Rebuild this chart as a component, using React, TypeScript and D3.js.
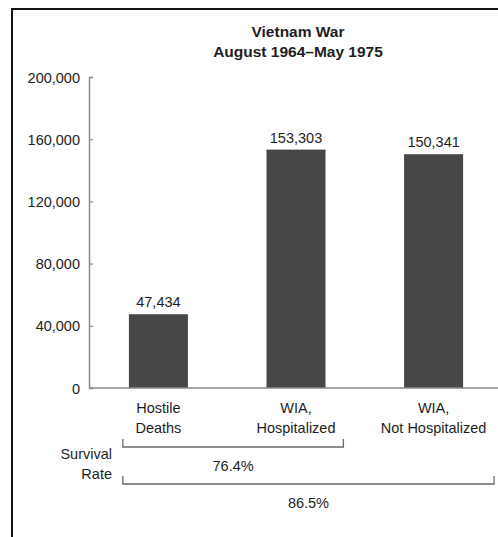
import React from "react";
import * as d3 from "d3";

// chart values
const categories = ["Hostile Deaths", "WIA, Hospitalized", "WIA, Not Hospitalized"];
const categoryLines = [["Hostile", "Deaths"], ["WIA,", "Hospitalized"], ["WIA,", "Not Hospitalized"]];
const casualties = [47434, 153303, 150341];
const yTicks = [0, 40000, 80000, 120000, 160000, 200000];
const survivalLabels = ["76.4%", "86.5%"];
const survivalSpans = [[0, 1], [0, 2]];
const titleLines = ["Vietnam War", "August 1964\u2013May 1975"];

const W = 498;
const H = 537;
const FONT = "'Liberation Sans', Arial, Helvetica, sans-serif";

export default function App() {
  const svgRef = React.useRef<SVGSVGElement>(null);

  React.useEffect(() => {
    const svg = d3.select(svgRef.current);
    svg.selectAll("*").remove();

    const left = 89, bottom = 388, top = 77;
    const x = d3.scaleBand<string>().domain(categories).range([left, 503]).paddingInner(0.571).paddingOuter(0.29);
    const y = d3.scaleLinear().domain([0, 200000]).range([bottom, top]);

    // frame
    svg.append("rect").attr("x", 12).attr("y", 9).attr("width", 500).attr("height", 540)
      .attr("fill", "none").attr("stroke", "#161616").attr("stroke-width", 2);

    // title
    svg.append("g").selectAll("text").data(titleLines).enter().append("text")
      .attr("x", 298).attr("y", (d, i) => 37 + i * 20)
      .attr("text-anchor", "middle").attr("font-family", FONT).attr("font-weight", "bold")
      .attr("font-size", 15.5).attr("fill", "#1e1e1e").text(d => d);

    // y axis
    const yAxis = d3.axisLeft(y).tickValues(yTicks).tickFormat(d3.format(","))
      .tickSizeInner(-4).tickSizeOuter(-4).tickPadding(9);
    const ya = svg.append("g").attr("transform", `translate(${left},0)`).call(yAxis);
    ya.select(".domain").attr("stroke", "#8a8a8a").attr("stroke-width", 1.5);
    ya.selectAll(".tick line").attr("stroke", "#8a8a8a").attr("stroke-width", 1.2);
    ya.selectAll("text").attr("font-family", FONT).attr("font-size", 14.5).attr("fill", "#222").attr("dy", "0.35em");

    // bars
    svg.append("g").selectAll("rect").data(casualties).enter().append("rect")
      .attr("x", (d, i) => x(categories[i])!)
      .attr("y", d => y(d))
      .attr("width", x.bandwidth())
      .attr("height", d => bottom - y(d))
      .attr("fill", "#474747");

    // value labels
    svg.append("g").selectAll("text").data(casualties).enter().append("text")
      .attr("x", (d, i) => x(categories[i])! + x.bandwidth() / 2)
      .attr("y", d => y(d) - 7)
      .attr("text-anchor", "middle").attr("font-family", FONT).attr("font-size", 14.5)
      .attr("fill", "#1e1e1e").text(d => d3.format(",")(d));

    // baseline
    svg.append("line").attr("x1", left).attr("x2", W).attr("y1", bottom).attr("y2", bottom)
      .attr("stroke", "#8a8a8a").attr("stroke-width", 1.5);

    // category labels
    const cl = svg.append("g").selectAll("text").data(categoryLines).enter().append("text")
      .attr("x", (d, i) => x(categories[i])! + x.bandwidth() / 2)
      .attr("y", 413)
      .attr("text-anchor", "middle").attr("font-family", FONT).attr("font-size", 14.5).attr("fill", "#1e1e1e");
    cl.selectAll("tspan").data(d => d).enter().append("tspan")
      .attr("x", function () { return (this.parentNode as SVGTextElement).getAttribute("x"); })
      .attr("dy", (d, i) => (i === 0 ? 0 : 20)).text(d => d);

    // survival rate brackets
    const step = x.step();
    const bx0 = x(categories[0])! - 0.044 * step;
    const bEnds = [x(categories[1])! + x.bandwidth() + 0.13 * step, x(categories[2])! + x.bandwidth() + 0.225 * step];
    const bY = [447, 484];
    const br = svg.append("g");
    survivalSpans.forEach((s, i) => {
      const x1 = bEnds[i];
      br.append("path")
        .attr("d", `M${bx0},${bY[i] - 8}V${bY[i]}H${x1}V${bY[i] - 8}`)
        .attr("fill", "none").attr("stroke", "#6a6a6a").attr("stroke-width", 1.3);
      br.append("text").attr("x", (bx0 + x1) / 2).attr("y", bY[i] + 24)
        .attr("text-anchor", "middle").attr("font-family", FONT).attr("font-size", 14.5)
        .attr("fill", "#1e1e1e").text(survivalLabels[i]);
    });
    svg.append("g").selectAll("text").data(["Survival", "Rate"]).enter().append("text")
      .attr("x", 112).attr("y", (d, i) => 459 + i * 20).attr("text-anchor", "end")
      .attr("font-family", FONT).attr("font-size", 14.5).attr("fill", "#1e1e1e").text(d => d);
  }, []);

  return (
    <svg ref={svgRef} width={W} height={H}
      style={{ position: "absolute", left: 0, top: 0, background: "#fff" }} />
  );
}
